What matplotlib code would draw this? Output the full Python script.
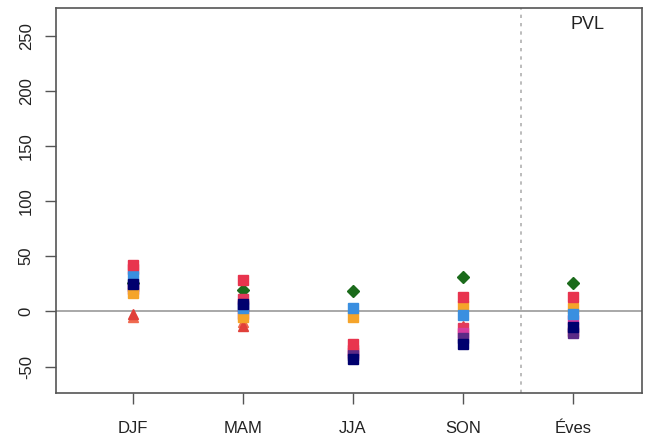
import matplotlib.pyplot as plt
import numpy as np

plt.rcParams['font.family'] = ['Liberation Sans', 'DejaVu Sans']

seasons = ["DJF", "MAM", "JJA", "SON", "Éves"]
panel_label = "PVL"

# one list per model, values per season
red_sq = [42, 28, -30, 13, 13]
crimson_sq = [38, 11, -35, -15, -18]
blue_sq = [32, 3, 3, -3, -2]
navy_sq = [25, 7, -43, -30, -14]
orange_sq = [17, -5, -5, 5, 3]
purple_sq = [23, 5, -40, -24, -20]
magenta_sq = [20, -2, -38, -20, -8]
red_tri = [-2, -13, -33, -13, -17]
salmon_tri = [-5, -10, -30, -15, -18]
green_dia = [26, 19, 18, 31, 26]

series = [
    (green_dia, "#1B6B1B", "D"),
    (salmon_tri, "#EF6A50", "^"),
    (red_tri, "#E0403A", "^"),
    (crimson_sq, "#E23A5C", "s"),
    (magenta_sq, "#D63CA0", "s"),
    (purple_sq, "#5B2A86", "s"),
    (orange_sq, "#F5A42A", "s"),
    (blue_sq, "#3A8FE0", "s"),
    (navy_sq, "#00006E", "s"),
    (red_sq, "#E8344E", "s"),
]

fig = plt.figure(figsize=(6.52, 4.42), dpi=100)
ax = fig.add_axes([0.0859, 0.1109, 0.8988, 0.8710])

xs = np.arange(1, len(seasons) + 1)
ax.axhline(0, color="#9a9a9a", lw=1.2, zorder=1)
ax.axvline(4.53, color="#b0b0b0", lw=1.2, ls=(0, (2, 3)), zorder=1)

for vals, col, mk in series:
    ms = 6 if mk == "D" else 7
    ax.plot(xs, vals, ls="none", marker=mk, color=col, ms=ms, mec=col, zorder=3)

ax.set_xlim(0.3, 5.63)
ax.set_ylim(-74, 275)
ax.set_xticks(xs)
ax.set_xticklabels(seasons, fontsize=12)
ax.set_yticks([-50, 0, 50, 100, 150, 200, 250])
ax.set_yticklabels(["-50", "0", "50", "100", "150", "200", "250"],
                   fontsize=12, rotation=90, va="center")
ax.tick_params(axis="both", length=8, width=1, color="#555555", labelcolor="#222222")
ax.tick_params(axis="x", pad=12)
ax.tick_params(axis="y", pad=8)
for s in ax.spines.values():
    s.set_color("#555555")
    s.set_linewidth(1.2)

ax.text(5.13, 260, panel_label, fontsize=13, ha="center", va="center", color="#222222")

fig.savefig("out.png", dpi=100)
